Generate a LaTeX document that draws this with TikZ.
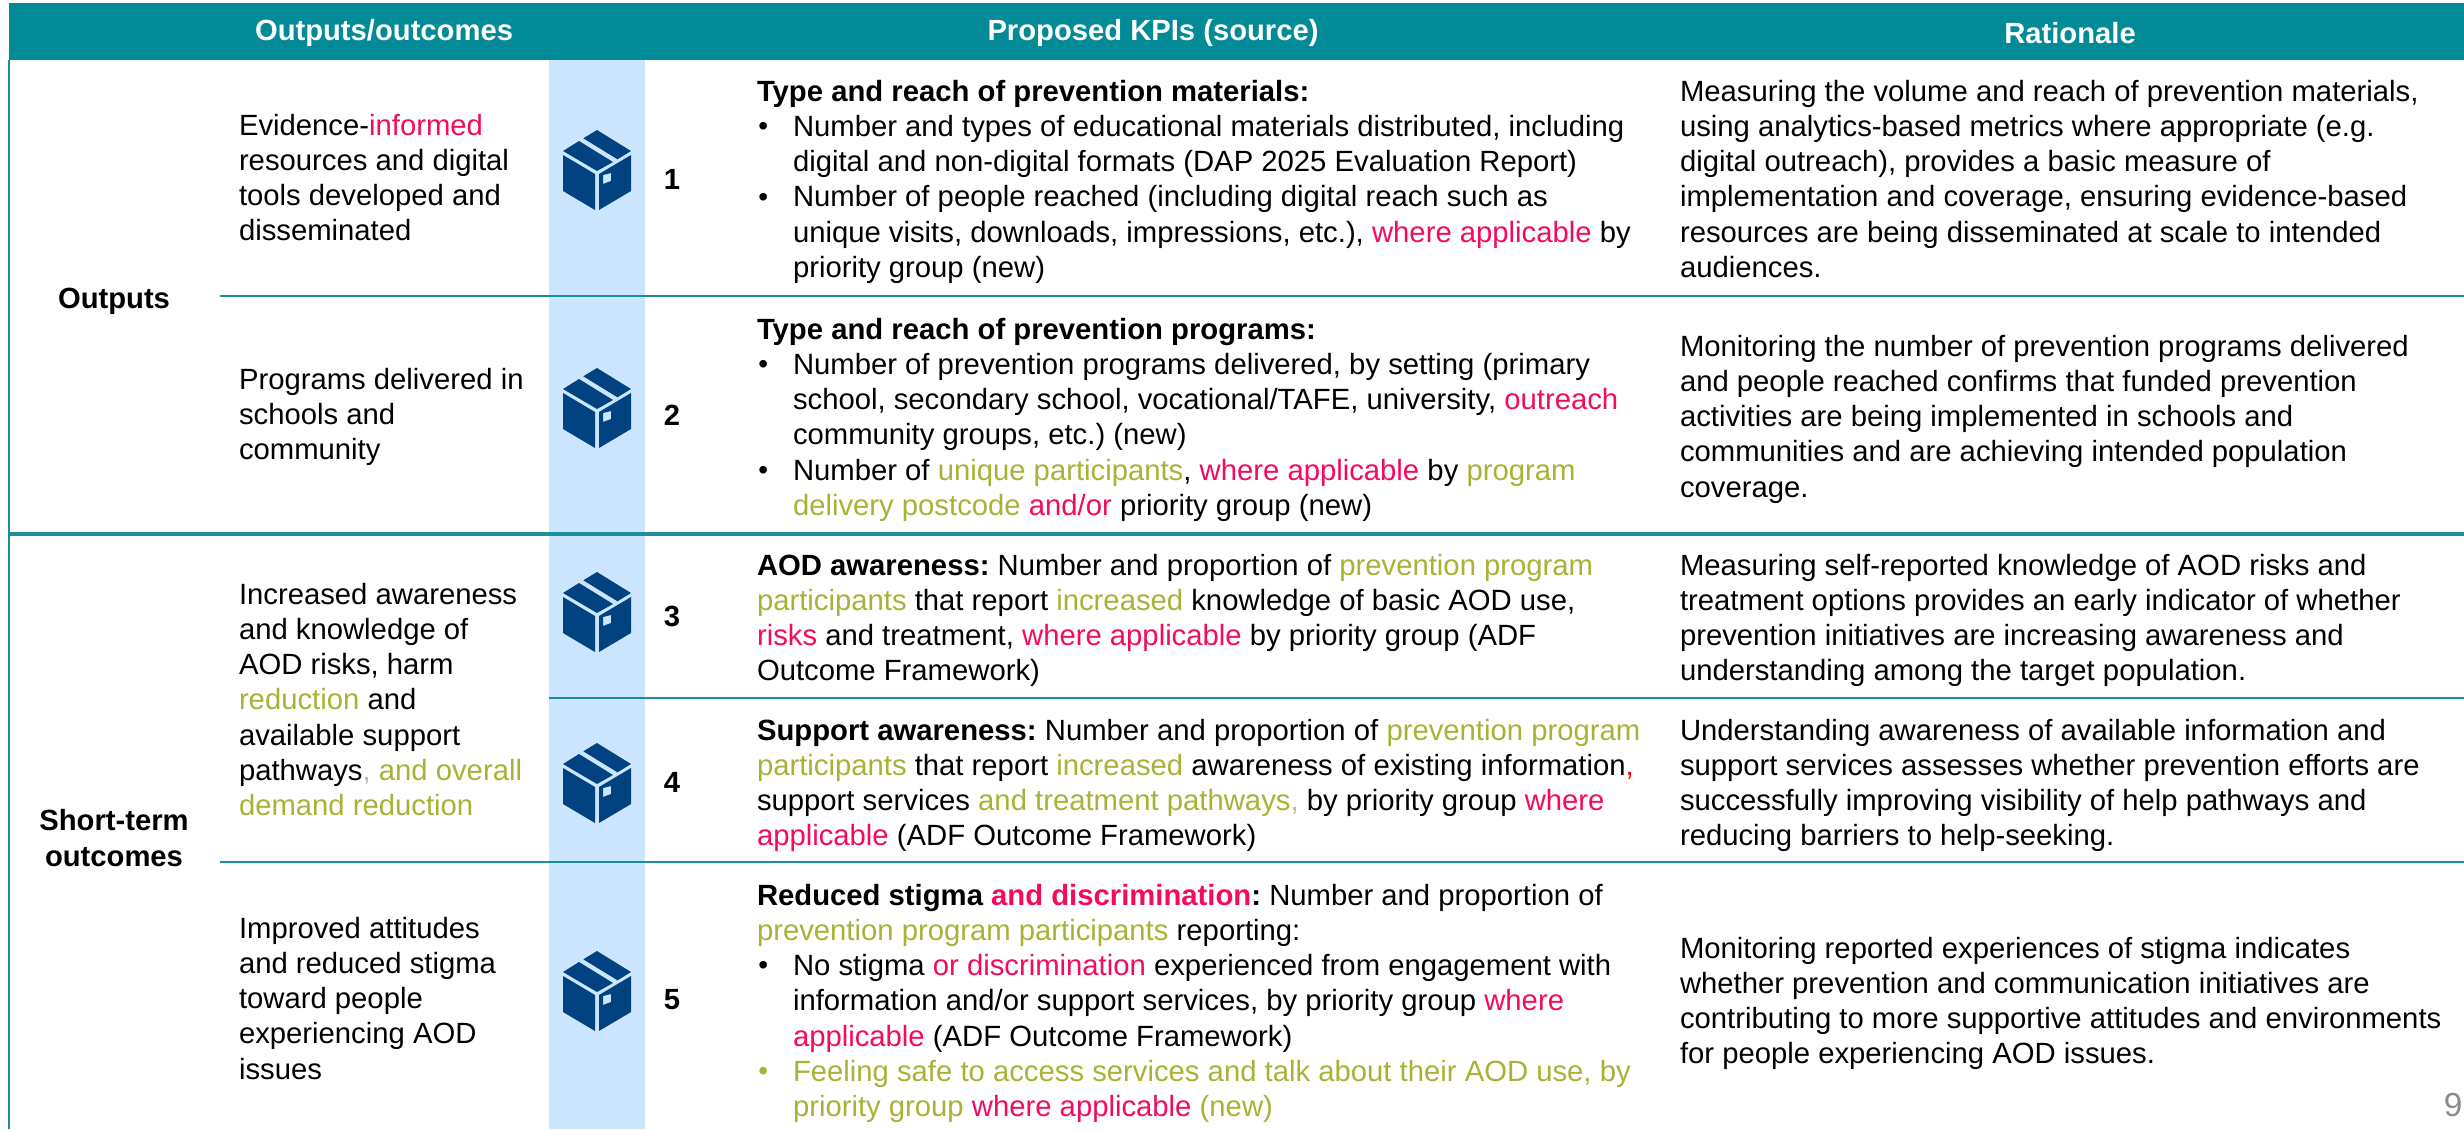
\documentclass[tikz,border=0pt]{standalone}
\usepackage{fontspec}
\setmainfont{Liberation Sans}
\definecolor{teal0}{HTML}{028A96}
\definecolor{lineteal}{HTML}{1A8E9A}
\definecolor{band}{HTML}{CCE5FF}
\definecolor{navy}{HTML}{004380}
\definecolor{pk}{HTML}{F50A5F}
\definecolor{ol}{HTML}{A9B236}
\definecolor{cm}{HTML}{B8BC9A}
\newcommand{\Pk}[1]{\textcolor{pk}{#1}}
\newcommand{\Ol}[1]{\textcolor{ol}{#1}}
\newcommand{\bu}{\makebox[27pt][l]{\hspace*{1pt}{\fontsize{21pt}{21pt}\selectfont\raisebox{0.5pt}{•}}}}
\newcommand{\ind}{\hspace*{27pt}}
\tikzset{
 x=0.75pt,y=-0.75pt,
 body/.style={anchor=north west,inner sep=0pt,outer sep=0pt,align=left,font=\fontsize{21.95pt}{26.4pt}\selectfont\frenchspacing,text=black},
 head/.style={anchor=center,inner sep=0pt,text=white,font=\fontsize{21.9pt}{24pt}\selectfont\bfseries},
 rowlab/.style={anchor=center,inner sep=0pt,align=center,text=black,font=\fontsize{21.9pt}{26.4pt}\selectfont\bfseries},
 num/.style={anchor=center,inner sep=0pt,text=black,font=\fontsize{21.9pt}{24pt}\selectfont\bfseries},
 thin rule/.style={draw=lineteal,line width=1.2pt},
 thick rule/.style={draw=lineteal,line width=2.8pt},
}
\newcommand{\boxicon}[2]{%
\begin{scope}[shift={(#1,#2)}]
\fill[navy] (0,-40)--(34,-19)--(20.5,-10.7)--(-13.7,-31.7)--cycle;
\fill[navy] (-18,-29)--(-34,-19)--(0,1)--(16,-8)--cycle;
\fill[navy] (-34,-15)--(-2,4)--(-2,40)--(-34,21)--cycle;
\fill[navy,even odd rule] (2,4)--(34,-15)--(34,21)--(2,40)--cycle (6,5)--(14,3)--(14,11)--(6,14)--cycle;
\end{scope}}
\begin{document}
\begin{tikzpicture}
\useasboundingbox (0,0) rectangle (2464,1129);
\fill[white] (0,0) rectangle (2464,1129);
\fill[band] (549,60) rectangle (645,1129);
\fill[teal0] (9,3) rectangle (2464,60);
\draw[thin rule] (9,60)--(9,1129);
\draw[thin rule] (220,296)--(2464,296);
\draw[thick rule] (9,534)--(2464,534);
\draw[thin rule] (549,698)--(2464,698);
\draw[thin rule] (220,862)--(2464,862);
\node[head] (h1) at (384,33) {Outputs/outcomes};
\node[head] (h2) at (1153,33) {Proposed KPIs (source)};
\node[head] (h3) at (2070,33) {Rationale};
\node[rowlab] (r1) at (114,301) {Outputs};
\node[rowlab] (r2) at (114,838) {Short-term\\outcomes};
\node[body] (o1) at (239,114) {Evidence-\Pk{informed}\\resources and digital\\tools developed and\\disseminated};
\node[body] (o2) at (239,368) {Programs delivered in\\schools and\\community};
\node[body] (o3) at (239,583) {Increased awareness\\and knowledge of\\AOD risks, harm\\\Ol{reduction} and\\available support\\pathways\textcolor{cm}{,} \Ol{and overall}\\\Ol{demand reduction}};
\node[body] (o4) at (239,917) {Improved attitudes\\and reduced stigma\\toward people\\experiencing AOD\\issues};
\boxicon{597}{170}
\boxicon{597}{408}
\boxicon{597}{612}
\boxicon{597}{783}
\boxicon{597}{991}
\node[num] (n1) at (672,179) {1};
\node[num] (n2) at (672,415) {2};
\node[num] (n3) at (672,616) {3};
\node[num] (n4) at (672,782) {4};
\node[num] (n5) at (672,1000) {5};
\node[body] (k1) at (757,80) {\textbf{Type and reach of prevention materials:}\\
\bu Number and types of educational materials distributed, including\\
\ind digital and non-digital formats (DAP 2025 Evaluation Report)\\
\bu Number of people reached (including digital reach such as\\
\ind unique visits, downloads, impressions, etc.), \Pk{where applicable} by\\
\ind priority group (new)};
\node[body] (k2) at (757,318) {\textbf{Type and reach of prevention programs:}\\
\bu Number of prevention programs delivered, by setting (primary\\
\ind school, secondary school, vocational/TAFE, university, \Pk{outreach}\\
\ind community groups, etc.) (new)\\
\bu Number of \Ol{unique participants}, \Pk{where applicable} by \Ol{program}\\
\ind \Ol{delivery postcode} \Pk{and/or} priority group (new)};
\node[body] (k3) at (757,554) {\textbf{AOD awareness:} Number and proportion of \Ol{prevention program}\\
\Ol{participants} that report \Ol{increased} knowledge of basic AOD use,\\
\Pk{risks} and treatment, \Pk{where applicable} by priority group (ADF\\
Outcome Framework)};
\node[body] (k4) at (757,719) {\textbf{Support awareness:} Number and proportion of \Ol{prevention program}\\
\Ol{participants} that report \Ol{increased} awareness of existing information\textcolor{red}{,}\\
support services \Ol{and treatment pathways}\textcolor{cm}{,} by priority group \Pk{where}\\
\Pk{applicable} (ADF Outcome Framework)};
\node[body] (k5) at (757,884) {\textbf{Reduced stigma \Pk{and discrimination}:} Number and proportion of\\
\Ol{prevention program participants} reporting:\\
\bu No stigma \Pk{or discrimination} experienced from engagement with\\
\ind information and/or support services, by priority group \Pk{where}\\
\ind \Pk{applicable} (ADF Outcome Framework)\\
\Ol{\bu Feeling safe to access services and talk about their AOD use, by}\\
\ind \Ol{priority group} \Pk{where applicable} \Ol{(new)}};
\node[body] (a1) at (1680,80) {Measuring the volume and reach of prevention materials,\\using analytics-based metrics where appropriate (e.g.\\digital outreach), provides a basic measure of\\implementation and coverage, ensuring evidence-based\\resources are being disseminated at scale to intended\\audiences.};
\node[body] (a2) at (1680,335) {Monitoring the number of prevention programs delivered\\and people reached confirms that funded prevention\\activities are being implemented in schools and\\communities and are achieving intended population\\coverage.};
\node[body] (a3) at (1680,554) {Measuring self-reported knowledge of AOD risks and\\treatment options provides an early indicator of whether\\prevention initiatives are increasing awareness and\\understanding among the target population.};
\node[body] (a4) at (1680,719) {Understanding awareness of available information and\\support services assesses whether prevention efforts are\\successfully improving visibility of help pathways and\\reducing barriers to help-seeking.};
\node[body] (a5) at (1680,937) {Monitoring reported experiences of stigma indicates\\whether prevention and communication initiatives are\\contributing to more supportive attitudes and environments\\for people experiencing AOD issues.};
\node[anchor=center,inner sep=0pt,text=black!45,font=\fontsize{25pt}{26pt}\selectfont] (pg) at (2453,1105) {9};
\end{tikzpicture}
\end{document}
